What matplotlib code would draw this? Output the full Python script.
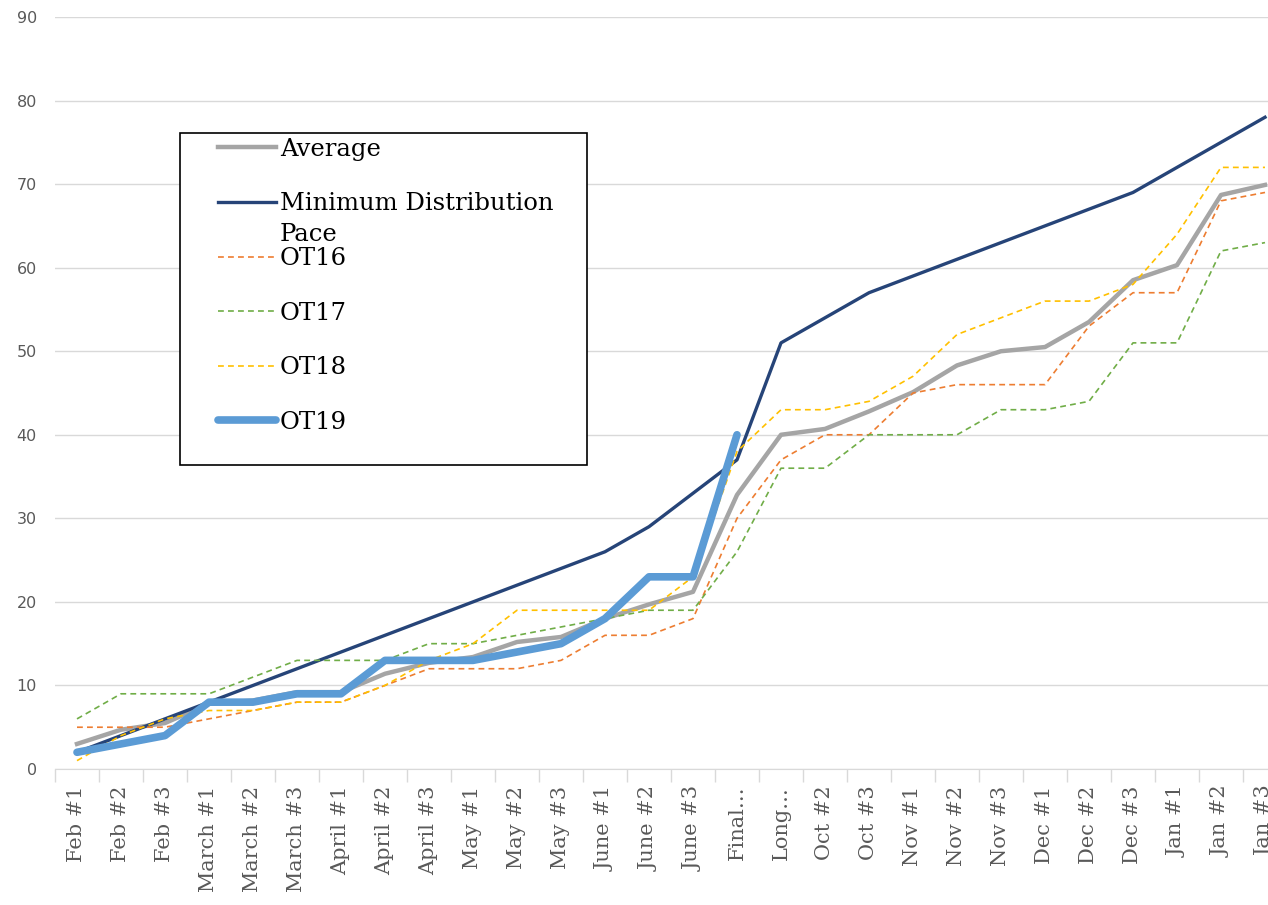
import matplotlib.pyplot as plt
import matplotlib.patches as mpatches
import numpy as np

# categories on the x axis
periods = ['Feb #1', 'Feb #2', 'Feb #3', 'March #1', 'March #2', 'March #3',
           'April #1', 'April #2', 'April #3', 'May #1', 'May #2', 'May #3',
           'June #1', 'June #2', 'June #3', 'Final\u2026', 'Long\u2026',
           'Oct #2', 'Oct #3', 'Nov #1', 'Nov #2', 'Nov #3', 'Dec #1',
           'Dec #2', 'Dec #3', 'Jan #1', 'Jan #2', 'Jan #3']

# series values
average = [3, 4.7, 5.5, 7.8, 8.2, 9.2, 9.2, 11.4, 12.7, 13.4, 15.2, 15.8,
           18, 19.7, 21.2, 32.8, 40, 40.7, 42.8, 45.1, 48.3, 50, 50.5,
           53.5, 58.5, 60.3, 68.7, 69.9]
min_pace = [2, 4, 6, 8, 10, 12, 14, 16, 18, 20, 22, 24, 26, 29, 33, 37,
            51, 54, 57, 59, 61, 63, 65, 67, 69, 72, 75, 78]
ot16 = [5, 5, 5, 6, 7, 8, 8, 10, 12, 12, 12, 13, 16, 16, 18, 30, 37, 40,
        40, 45, 46, 46, 46, 53, 57, 57, 68, 69]
ot17 = [6, 9, 9, 9, 11, 13, 13, 13, 15, 15, 16, 17, 18, 19, 19, 26, 36,
        36, 40, 40, 40, 43, 43, 44, 51, 51, 62, 63]
ot18 = [1, 4, 6, 7, 7, 8, 8, 10, 13, 15, 19, 19, 19, 19, 23, 38, 43, 43,
        44, 47, 52, 54, 56, 56, 58, 64, 72, 72]
ot19 = [2, 3, 4, 8, 8, 9, 9, 13, 13, 13, 14, 15, 18, 23, 23, 40]

x = np.arange(len(periods))
legend_font = {'family': 'DejaVu Serif', 'size': 17.5}

fig = plt.figure(figsize=(12.68, 9.05), dpi=100)
ax = fig.add_axes([55 / 1268, 136 / 905, 1232 / 1268, 752 / 905])

# draw the series in the same order as the original
ax.plot(x, average, color='#A5A5A5', linewidth=3.2, label='Average', zorder=3)
ax.plot(x, min_pace, color='#264478', linewidth=2.4,
        label='Minimum Distribution', zorder=4)
ax.plot(x, ot16, color='#ED7D31', linewidth=1.2, linestyle=(0, (3.5, 2.5)),
        label='OT16', zorder=5)
ax.plot(x, ot17, color='#70AD47', linewidth=1.2, linestyle=(0, (3.5, 2.5)),
        label='OT17', zorder=6)
ax.plot(x, ot18, color='#FFC000', linewidth=1.2, linestyle=(0, (3.5, 2.5)),
        label='OT18', zorder=7)
ax.plot(x[:len(ot19)], ot19, color='#5B9BD5', linewidth=5.5, label='OT19',
        solid_capstyle='round', zorder=8)

# axes
ax.set_xlim(-0.5, len(periods) - 0.5)
ax.set_ylim(0, 90)
ax.set_yticks(range(0, 91, 10))
ax.tick_params(axis='y', length=0, pad=13, labelsize=11.5, labelcolor='#595959')
ax.set_xticks(x)
ax.set_xticklabels(periods, rotation=90, fontfamily='DejaVu Serif',
                   fontsize=15, color='#595959')
ax.tick_params(axis='x', which='major', length=0, pad=12)
ax.set_xticks(np.arange(-0.5, len(periods), 1), minor=True)
ax.tick_params(axis='x', which='minor', length=9, width=1, color='#D9D9D9')

ax.grid(axis='y', color='#D9D9D9', linewidth=1)
ax.set_axisbelow(True)
for side in ['left', 'right', 'top']:
    ax.spines[side].set_visible(False)
ax.spines['bottom'].set_color('#D9D9D9')
ax.spines['bottom'].set_zorder(1)

# legend box, drawn as a separate frame so the padding matches the original
frame = mpatches.Rectangle((0.1015, 0.4043), 0.3304, 0.4415,
                           transform=ax.transAxes, facecolor='white',
                           edgecolor='black', linewidth=1.2, zorder=20)
ax.add_patch(frame)
leg = ax.legend(loc='upper left', bbox_to_anchor=(0.1323, 0.8393),
                borderaxespad=0, frameon=False, prop=legend_font,
                handlelength=2.4, handletextpad=0.15, labelspacing=1.3,
                borderpad=0)
leg.set_zorder(21)

# the wrapped second line of the long label overlaps the next row, like the original
fig.canvas.draw()
ext = leg.get_texts()[1].get_window_extent()
fig.text(ext.x0 / fig.bbox.width, (ext.y0 - 31) / fig.bbox.height, 'Pace',
         fontdict=legend_font, va='bottom', ha='left', zorder=22)

plt.savefig('out.png')
